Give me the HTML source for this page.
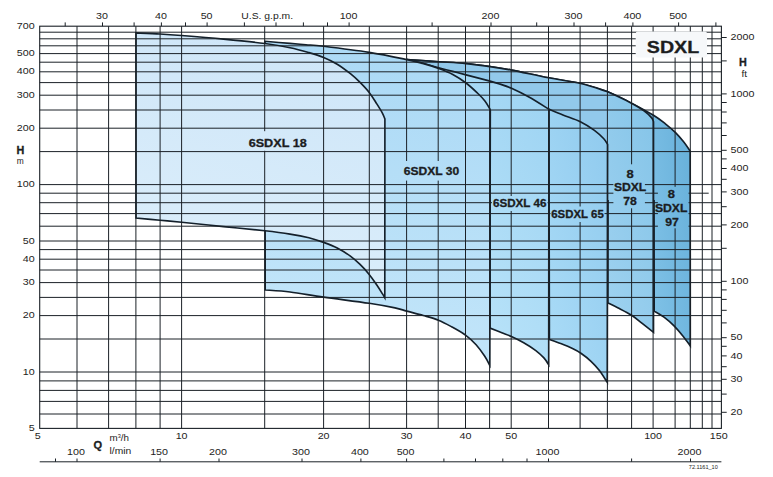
<!DOCTYPE html>
<html><head><meta charset="utf-8"><title>SDXL</title>
<style>html,body{margin:0;padding:0;background:#fff}svg{display:block}text{font-family:"Liberation Sans",sans-serif;fill:#1d1d1b}</style></head><body>
<svg width="773" height="477" viewBox="0 0 773 477">
<rect width="773" height="477" fill="#fff"/>
<defs>
<linearGradient id="g1" gradientUnits="userSpaceOnUse" x1="385.0" y1="32.0" x2="302.1" y2="342.4"><stop offset="0" stop-color="#cde5f8"/><stop offset="1" stop-color="#ddeffb"/></linearGradient>
<linearGradient id="g2" gradientUnits="userSpaceOnUse" x1="490.0" y1="41.0" x2="399.0" y2="399.1"><stop offset="0" stop-color="#a9d8f5"/><stop offset="1" stop-color="#c6e7fa"/></linearGradient>
<linearGradient id="g3" gradientUnits="userSpaceOnUse" x1="549.0" y1="60.0" x2="372.5" y2="162.5"><stop offset="0" stop-color="#9bd2f2"/><stop offset="1" stop-color="#b9e3f9"/></linearGradient>
<linearGradient id="g4" gradientUnits="userSpaceOnUse" x1="608.0" y1="108.0" x2="485.4" y2="140.3"><stop offset="0" stop-color="#8fcaee"/><stop offset="1" stop-color="#abdcf7"/></linearGradient>
<linearGradient id="g5" gradientUnits="userSpaceOnUse" x1="654.0" y1="92.0" x2="547.8" y2="122.5"><stop offset="0" stop-color="#84c4e8"/><stop offset="1" stop-color="#9fd2f0"/></linearGradient>
<linearGradient id="g6" gradientUnits="userSpaceOnUse" x1="690.0" y1="115.0" x2="630.6" y2="121.2"><stop offset="0" stop-color="#67b0da"/><stop offset="1" stop-color="#80c2e7"/></linearGradient>
</defs>
<path d="M406.80,59.60 C412.12,59.95 428.83,61.03 438.70,61.70 C448.57,62.37 457.45,62.78 466.00,63.60 C474.55,64.42 482.42,65.52 490.00,66.60 C497.58,67.68 501.72,68.23 511.50,70.10 C521.28,71.97 537.15,75.57 548.70,77.80 C560.25,80.03 570.97,81.17 580.80,83.50 C590.63,85.83 599.18,88.48 607.70,91.80 C616.22,95.12 624.27,99.48 631.90,103.40 C639.53,107.32 647.82,111.82 653.50,115.30 C659.18,118.78 662.37,121.45 666.00,124.30 C669.63,127.15 672.37,129.48 675.30,132.40 C678.23,135.32 681.12,138.70 683.60,141.80 C686.08,144.90 689.10,149.47 690.20,151.00 L690.30,345.90 C689.10,344.30 685.77,339.60 683.10,336.30 C680.43,333.00 677.48,329.28 674.30,326.10 C671.12,322.92 667.35,319.70 664.00,317.20 C660.65,314.70 655.83,312.12 654.20,311.10 L654.0,200.0 L406.8,200.0 Z" fill="url(#g6)" stroke="none"/>
<path d="M406.80,59.60 C412.12,59.95 428.83,61.03 438.70,61.70 C448.57,62.37 457.45,62.78 466.00,63.60 C474.55,64.42 482.42,65.52 490.00,66.60 C497.58,67.68 501.72,68.23 511.50,70.10 C521.28,71.97 537.15,75.57 548.70,77.80 C560.25,80.03 570.97,81.17 580.80,83.50 C590.63,85.83 599.18,88.48 607.70,91.80 C616.22,95.12 624.27,99.48 631.90,103.40 C639.53,107.32 647.82,111.82 653.50,115.30 C659.18,118.78 662.37,121.45 666.00,124.30 C669.63,127.15 672.37,129.48 675.30,132.40 C678.23,135.32 681.12,138.70 683.60,141.80 C686.08,144.90 689.10,149.47 690.20,151.00 L690.30,345.90 C689.10,344.30 685.77,339.60 683.10,336.30 C680.43,333.00 677.48,329.28 674.30,326.10 C671.12,322.92 667.35,319.70 664.00,317.20 C660.65,314.70 655.83,312.12 654.20,311.10 L654.0,200" fill="none" stroke="#14202b" stroke-width="1.65" stroke-linejoin="miter"/>
<path d="M406.80,59.60 C412.12,59.95 428.83,61.03 438.70,61.70 C448.57,62.37 457.45,62.78 466.00,63.60 C474.55,64.42 482.42,65.52 490.00,66.60 C497.58,67.68 501.72,68.23 511.50,70.10 C521.28,71.97 537.15,75.57 548.70,77.80 C560.25,80.03 570.97,81.17 580.80,83.50 C590.63,85.83 603.22,90.42 607.70,91.80 L607.7,200 L406.8,200 Z" fill="#92c9eb" stroke="none"/>
<path d="M406.80,59.60 C412.12,59.95 428.83,61.03 438.70,61.70 C448.57,62.37 457.45,62.78 466.00,63.60 C474.55,64.42 482.42,65.52 490.00,66.60 C497.58,67.68 501.72,68.23 511.50,70.10 C521.28,71.97 537.15,75.57 548.70,77.80 C560.25,80.03 570.97,81.17 580.80,83.50 C590.63,85.83 603.22,90.42 607.70,91.80" fill="none" stroke="#14202b" stroke-width="1.65" stroke-linejoin="miter"/>
<path d="M607.70,91.80 C611.18,93.47 622.55,98.63 628.60,101.80 C634.65,104.97 640.15,108.12 644.00,110.80 C647.85,113.48 650.12,116.07 651.70,117.90 C653.28,119.73 653.20,121.15 653.50,121.80 L653.50,332.40 C651.62,330.90 645.85,326.27 642.20,323.40 C638.55,320.53 635.68,317.82 631.60,315.20 C627.52,312.58 621.65,309.75 617.70,307.70 C613.75,305.65 609.53,303.70 607.90,302.90 Z" fill="url(#g5)" stroke="none"/>
<path d="M607.70,91.80 C611.18,93.47 622.55,98.63 628.60,101.80 C634.65,104.97 640.15,108.12 644.00,110.80 C647.85,113.48 650.12,116.07 651.70,117.90 C653.28,119.73 653.20,121.15 653.50,121.80 L653.50,332.40 C651.62,330.90 645.85,326.27 642.20,323.40 C638.55,320.53 635.68,317.82 631.60,315.20 C627.52,312.58 621.65,309.75 617.70,307.70 C613.75,305.65 609.53,303.70 607.90,302.90 L608.0,200" fill="none" stroke="#14202b" stroke-width="1.65" stroke-linejoin="miter"/>
<path d="M548.90,109.30 C551.23,110.25 557.58,112.90 562.90,115.00 C568.22,117.10 575.55,119.35 580.80,121.90 C586.05,124.45 590.57,127.50 594.40,130.30 C598.23,133.10 601.60,136.33 603.80,138.70 C606.00,141.07 606.97,143.53 607.60,144.50 L607.30,382.40 C605.98,380.42 602.12,374.02 599.40,370.50 C596.68,366.98 594.08,364.17 591.00,361.30 C587.92,358.43 583.98,355.42 580.90,353.30 C577.82,351.18 575.87,350.22 572.50,348.60 C569.13,346.98 564.55,345.13 560.70,343.60 C556.85,342.07 551.28,340.10 549.40,339.40 Z" fill="url(#g4)" stroke="none"/>
<path d="M548.90,109.30 C551.23,110.25 557.58,112.90 562.90,115.00 C568.22,117.10 575.55,119.35 580.80,121.90 C586.05,124.45 590.57,127.50 594.40,130.30 C598.23,133.10 601.60,136.33 603.80,138.70 C606.00,141.07 606.97,143.53 607.60,144.50 L607.30,382.40 C605.98,380.42 602.12,374.02 599.40,370.50 C596.68,366.98 594.08,364.17 591.00,361.30 C587.92,358.43 583.98,355.42 580.90,353.30 C577.82,351.18 575.87,350.22 572.50,348.60 C569.13,346.98 564.55,345.13 560.70,343.60 C556.85,342.07 551.28,340.10 549.40,339.40 Z" fill="none" stroke="#14202b" stroke-width="1.65" stroke-linejoin="miter"/>
<path d="M406.80,59.60 C409.43,60.20 417.28,61.82 422.60,63.20 C427.92,64.58 433.67,66.53 438.70,67.90 C443.73,69.27 448.25,70.23 452.80,71.40 C457.35,72.57 459.80,73.28 466.00,74.90 C472.20,76.52 484.33,79.57 490.00,81.10 C495.67,82.63 496.42,82.90 500.00,84.10 C503.58,85.30 506.60,86.10 511.50,88.30 C516.40,90.50 523.17,93.80 529.40,97.30 C535.63,100.80 545.65,107.30 548.90,109.30 L548.70,364.80 C547.90,363.65 546.10,360.32 543.90,357.90 C541.70,355.48 538.87,352.83 535.50,350.30 C532.13,347.77 527.72,345.00 523.70,342.70 C519.68,340.40 515.05,338.17 511.40,336.50 C507.75,334.83 505.37,334.10 501.80,332.70 C498.23,331.30 491.97,328.87 490.00,328.10 L490.0,200.0 L406.8,200.0 Z" fill="url(#g3)" stroke="none"/>
<path d="M406.80,59.60 C409.43,60.20 417.28,61.82 422.60,63.20 C427.92,64.58 433.67,66.53 438.70,67.90 C443.73,69.27 448.25,70.23 452.80,71.40 C457.35,72.57 459.80,73.28 466.00,74.90 C472.20,76.52 484.33,79.57 490.00,81.10 C495.67,82.63 496.42,82.90 500.00,84.10 C503.58,85.30 506.60,86.10 511.50,88.30 C516.40,90.50 523.17,93.80 529.40,97.30 C535.63,100.80 545.65,107.30 548.90,109.30 L548.70,364.80 C547.90,363.65 546.10,360.32 543.90,357.90 C541.70,355.48 538.87,352.83 535.50,350.30 C532.13,347.77 527.72,345.00 523.70,342.70 C519.68,340.40 515.05,338.17 511.40,336.50 C507.75,334.83 505.37,334.10 501.80,332.70 C498.23,331.30 491.97,328.87 490.00,328.10 L490.0,200" fill="none" stroke="#14202b" stroke-width="1.65" stroke-linejoin="miter"/>
<path d="M264.90,41.30 C269.08,41.65 283.15,42.83 290.00,43.40 C296.85,43.97 300.40,44.22 306.00,44.70 C311.60,45.18 313.07,45.02 323.60,46.30 C334.13,47.58 355.33,50.18 369.20,52.40 C383.07,54.62 397.90,57.77 406.80,59.60 C415.70,61.43 417.28,61.92 422.60,63.40 C427.92,64.88 433.67,66.65 438.70,68.50 C443.73,70.35 448.25,72.08 452.80,74.50 C457.35,76.92 461.90,79.92 466.00,83.00 C470.10,86.08 474.25,90.02 477.40,93.00 C480.55,95.98 482.87,98.32 484.90,100.90 C486.93,103.48 488.70,106.90 489.60,108.50 C490.50,110.10 490.18,110.17 490.30,110.50 L489.80,365.30 C488.93,363.75 486.88,359.43 484.60,356.00 C482.32,352.57 479.23,348.15 476.10,344.70 C472.97,341.25 469.88,338.28 465.80,335.30 C461.72,332.32 456.17,329.32 451.60,326.80 C447.03,324.28 443.12,322.08 438.40,320.20 C433.68,318.32 428.58,317.02 423.30,315.50 C418.02,313.98 411.42,312.37 406.70,311.10 C401.98,309.83 401.25,309.20 395.00,307.90 C388.75,306.60 381.10,305.10 369.20,303.30 C357.30,301.50 336.80,298.98 323.60,297.10 C310.40,295.22 299.73,293.18 290.00,292.00 C280.27,290.82 269.33,290.33 265.20,290.00 Z" fill="url(#g2)" stroke="none"/>
<path d="M264.90,41.30 C269.08,41.65 283.15,42.83 290.00,43.40 C296.85,43.97 300.40,44.22 306.00,44.70 C311.60,45.18 313.07,45.02 323.60,46.30 C334.13,47.58 355.33,50.18 369.20,52.40 C383.07,54.62 397.90,57.77 406.80,59.60 C415.70,61.43 417.28,61.92 422.60,63.40 C427.92,64.88 433.67,66.65 438.70,68.50 C443.73,70.35 448.25,72.08 452.80,74.50 C457.35,76.92 461.90,79.92 466.00,83.00 C470.10,86.08 474.25,90.02 477.40,93.00 C480.55,95.98 482.87,98.32 484.90,100.90 C486.93,103.48 488.70,106.90 489.60,108.50 C490.50,110.10 490.18,110.17 490.30,110.50 L489.80,365.30 C488.93,363.75 486.88,359.43 484.60,356.00 C482.32,352.57 479.23,348.15 476.10,344.70 C472.97,341.25 469.88,338.28 465.80,335.30 C461.72,332.32 456.17,329.32 451.60,326.80 C447.03,324.28 443.12,322.08 438.40,320.20 C433.68,318.32 428.58,317.02 423.30,315.50 C418.02,313.98 411.42,312.37 406.70,311.10 C401.98,309.83 401.25,309.20 395.00,307.90 C388.75,306.60 381.10,305.10 369.20,303.30 C357.30,301.50 336.80,298.98 323.60,297.10 C310.40,295.22 299.73,293.18 290.00,292.00 C280.27,290.82 269.33,290.33 265.20,290.00 Z" fill="none" stroke="#14202b" stroke-width="1.65" stroke-linejoin="miter"/>
<path d="M136.00,32.90 C140.02,33.08 152.50,33.57 160.10,34.00 C167.70,34.43 171.03,34.65 181.60,35.50 C192.17,36.35 209.62,37.77 223.50,39.10 C237.38,40.43 253.82,42.07 264.90,43.50 C275.98,44.93 282.67,46.18 290.00,47.70 C297.33,49.22 303.30,50.97 308.90,52.60 C314.50,54.23 318.88,55.57 323.60,57.50 C328.32,59.43 332.73,61.50 337.20,64.20 C341.67,66.90 346.63,70.70 350.40,73.70 C354.17,76.70 356.67,79.07 359.80,82.20 C362.93,85.33 366.37,88.88 369.20,92.50 C372.03,96.12 374.58,100.43 376.80,103.90 C379.02,107.37 381.15,110.78 382.50,113.30 C383.85,115.82 384.50,118.05 384.90,119.00 L384.80,297.80 C384.42,297.15 383.83,296.03 382.50,293.90 C381.17,291.77 379.02,288.25 376.80,285.00 C374.58,281.75 372.03,277.87 369.20,274.40 C366.37,270.93 362.93,267.25 359.80,264.20 C356.67,261.15 354.17,258.80 350.40,256.10 C346.63,253.40 341.67,250.28 337.20,248.00 C332.73,245.72 328.32,244.10 323.60,242.40 C318.88,240.70 314.50,239.18 308.90,237.80 C303.30,236.42 297.33,235.27 290.00,234.10 C282.67,232.93 275.98,232.05 264.90,230.80 C253.82,229.55 237.38,228.02 223.50,226.60 C209.62,225.18 192.17,223.37 181.60,222.30 C171.03,221.23 167.70,220.90 160.10,220.20 C152.50,219.50 140.02,218.45 136.00,218.10 Z" fill="url(#g1)" stroke="none"/>
<path d="M136.00,32.90 C140.02,33.08 152.50,33.57 160.10,34.00 C167.70,34.43 171.03,34.65 181.60,35.50 C192.17,36.35 209.62,37.77 223.50,39.10 C237.38,40.43 253.82,42.07 264.90,43.50 C275.98,44.93 282.67,46.18 290.00,47.70 C297.33,49.22 303.30,50.97 308.90,52.60 C314.50,54.23 318.88,55.57 323.60,57.50 C328.32,59.43 332.73,61.50 337.20,64.20 C341.67,66.90 346.63,70.70 350.40,73.70 C354.17,76.70 356.67,79.07 359.80,82.20 C362.93,85.33 366.37,88.88 369.20,92.50 C372.03,96.12 374.58,100.43 376.80,103.90 C379.02,107.37 381.15,110.78 382.50,113.30 C383.85,115.82 384.50,118.05 384.90,119.00 L384.80,297.80 C384.42,297.15 383.83,296.03 382.50,293.90 C381.17,291.77 379.02,288.25 376.80,285.00 C374.58,281.75 372.03,277.87 369.20,274.40 C366.37,270.93 362.93,267.25 359.80,264.20 C356.67,261.15 354.17,258.80 350.40,256.10 C346.63,253.40 341.67,250.28 337.20,248.00 C332.73,245.72 328.32,244.10 323.60,242.40 C318.88,240.70 314.50,239.18 308.90,237.80 C303.30,236.42 297.33,235.27 290.00,234.10 C282.67,232.93 275.98,232.05 264.90,230.80 C253.82,229.55 237.38,228.02 223.50,226.60 C209.62,225.18 192.17,223.37 181.60,222.30 C171.03,221.23 167.70,220.90 160.10,220.20 C152.50,219.50 140.02,218.45 136.00,218.10 Z" fill="none" stroke="#14202b" stroke-width="1.65" stroke-linejoin="miter"/>
<path d="M77.0,26.2V428.4M108.6,26.2V428.4M135.9,26.2V428.4M160.1,26.2V428.4M181.6,26.2V428.4M264.7,26.2V428.4M323.6,26.2V428.4M369.3,26.2V428.4M406.6,26.2V428.4M438.2,26.2V428.4M465.5,26.2V428.4M489.6,26.2V428.4M511.2,26.2V428.4M548.5,26.2V428.4M580.1,26.2V428.4M607.4,26.2V428.4M631.6,26.2V428.4M653.1,26.2V428.4M675.1,26.2V428.4M690.3,26.2V428.4M702.3,26.2V428.4M712.0,26.2V428.4M39.7,414.0H721.4M39.7,401.4H721.4M39.7,390.4H721.4M39.7,380.9H721.4M39.7,372.0H721.4M39.7,339.0H721.4M39.7,315.6H721.4M39.7,297.4H721.4M39.7,282.6H721.4M39.7,270.0H721.4M39.7,259.2H721.4M39.7,249.6H721.4M39.7,241.0H721.4M39.7,226.2H721.4M39.7,213.6H721.4M39.7,202.7H721.4M39.7,193.2H708.7M39.7,184.6H721.4M39.7,151.6H721.4M39.7,128.2H721.4M39.7,110.0H721.4M39.7,95.2H721.4M39.7,82.6H721.4M39.7,71.8H721.4M39.7,62.2H721.4M39.7,53.6H721.4M39.7,45.8H721.4M39.7,38.8H721.4M39.7,32.2H721.4" stroke="#1b2127" stroke-width="1" fill="none"/>
<rect x="39.7" y="26.2" width="681.7" height="402.2" fill="none" stroke="#1b2127" stroke-width="1.1"/>
<rect x="262.5" y="131.2" width="5.0" height="19.6" fill="url(#g1)"/>
<rect x="403.0" y="161.0" width="57.5" height="19.6" fill="url(#g2)"/>
<rect x="492.0" y="196.0" width="55.5" height="15.0" fill="url(#g3)"/>
<rect x="550.5" y="206.5" width="54.0" height="15.5" fill="url(#g4)"/>
<rect x="613.4" y="164.3" width="31.5" height="44.0" fill="url(#g5)"/>
<rect x="657.9" y="186.8" width="30.6" height="41.5" fill="url(#g6)"/>
<rect x="635.7" y="31.4" width="71.3" height="26.2" rx="2" fill="#f6f8fa"/>
<path d="M65.2,26.2V22.4M102.5,26.2V22.4M134.1,26.2V22.4M161.4,26.2V22.4M185.5,26.2V22.4M207.1,26.2V22.4M244.4,26.2V22.4M276.0,26.2V22.4M303.4,26.2V22.4M327.5,26.2V22.4M349.1,26.2V22.4M432.1,26.2V22.4M491.0,26.2V22.4M536.7,26.2V22.4M574.0,26.2V22.4M605.6,26.2V22.4M632.9,26.2V22.4M678.6,26.2V22.4M715.9,26.2V22.4M721.4,37.5H726.7M721.4,60.9H726.7M721.4,93.9H726.7M721.4,102.5H726.7M721.4,112.0H726.7M721.4,122.9H726.7M721.4,135.5H726.7M721.4,150.3H726.7M721.4,158.9H726.7M721.4,168.5H726.7M721.4,179.3H726.7M721.4,191.9H726.7M721.4,206.7H726.7M721.4,224.9H726.7M721.4,248.3H726.7M721.4,281.3H726.7M721.4,289.9H726.7M721.4,299.4H726.7M721.4,310.3H726.7M721.4,322.9H726.7M721.4,337.7H726.7M721.4,346.3H726.7M721.4,355.9H726.7M721.4,366.7H726.7M721.4,379.3H726.7M721.4,394.1H726.7M721.4,412.3H726.7M39.7,461.8H721.4M55.5,461.8V458.5M77.0,461.8V458.5M160.1,461.8V458.5M219.0,461.8V458.5M302.0,461.8V458.5M360.9,461.8V458.5M406.6,461.8V458.5M443.9,461.8V458.5M475.5,461.8V458.5M502.8,461.8V458.5M527.0,461.8V458.5M548.5,461.8V458.5M631.6,461.8V458.5M690.5,461.8V458.5" stroke="#1b2127" stroke-width="1" fill="none"/>
<text x="37.8" y="439.2" font-size="9.80" text-anchor="middle" fill="#333333" textLength="6.0" lengthAdjust="spacingAndGlyphs">5</text>
<text x="181.6" y="439.2" font-size="9.80" text-anchor="middle" fill="#333333" textLength="11.9" lengthAdjust="spacingAndGlyphs">10</text>
<text x="323.6" y="439.2" font-size="9.80" text-anchor="middle" fill="#333333" textLength="11.9" lengthAdjust="spacingAndGlyphs">20</text>
<text x="406.6" y="439.2" font-size="9.80" text-anchor="middle" fill="#333333" textLength="11.9" lengthAdjust="spacingAndGlyphs">30</text>
<text x="465.5" y="439.2" font-size="9.80" text-anchor="middle" fill="#333333" textLength="11.9" lengthAdjust="spacingAndGlyphs">40</text>
<text x="511.2" y="439.2" font-size="9.80" text-anchor="middle" fill="#333333" textLength="11.9" lengthAdjust="spacingAndGlyphs">50</text>
<text x="653.1" y="439.2" font-size="9.80" text-anchor="middle" fill="#333333" textLength="17.9" lengthAdjust="spacingAndGlyphs">100</text>
<text x="718.8" y="439.2" font-size="9.80" text-anchor="middle" fill="#333333" textLength="17.9" lengthAdjust="spacingAndGlyphs">150</text>
<text x="76.0" y="454.6" font-size="9.80" text-anchor="middle" fill="#333333" textLength="17.9" lengthAdjust="spacingAndGlyphs">100</text>
<text x="159.1" y="454.6" font-size="9.80" text-anchor="middle" fill="#333333" textLength="17.9" lengthAdjust="spacingAndGlyphs">150</text>
<text x="218.0" y="454.6" font-size="9.80" text-anchor="middle" fill="#333333" textLength="17.9" lengthAdjust="spacingAndGlyphs">200</text>
<text x="301.0" y="454.6" font-size="9.80" text-anchor="middle" fill="#333333" textLength="17.9" lengthAdjust="spacingAndGlyphs">300</text>
<text x="359.9" y="454.6" font-size="9.80" text-anchor="middle" fill="#333333" textLength="17.9" lengthAdjust="spacingAndGlyphs">400</text>
<text x="405.6" y="454.6" font-size="9.80" text-anchor="middle" fill="#333333" textLength="17.9" lengthAdjust="spacingAndGlyphs">500</text>
<text x="547.5" y="454.6" font-size="9.80" text-anchor="middle" fill="#333333" textLength="23.8" lengthAdjust="spacingAndGlyphs">1000</text>
<text x="689.5" y="454.6" font-size="9.80" text-anchor="middle" fill="#333333" textLength="23.8" lengthAdjust="spacingAndGlyphs">2000</text>
<text x="102.0" y="19.2" font-size="9.80" text-anchor="middle" fill="#333333" textLength="11.9" lengthAdjust="spacingAndGlyphs">30</text>
<text x="160.9" y="19.2" font-size="9.80" text-anchor="middle" fill="#333333" textLength="11.9" lengthAdjust="spacingAndGlyphs">40</text>
<text x="206.6" y="19.2" font-size="9.80" text-anchor="middle" fill="#333333" textLength="11.9" lengthAdjust="spacingAndGlyphs">50</text>
<text x="348.6" y="19.2" font-size="9.80" text-anchor="middle" fill="#333333" textLength="17.9" lengthAdjust="spacingAndGlyphs">100</text>
<text x="490.5" y="19.2" font-size="9.80" text-anchor="middle" fill="#333333" textLength="17.9" lengthAdjust="spacingAndGlyphs">200</text>
<text x="573.5" y="19.2" font-size="9.80" text-anchor="middle" fill="#333333" textLength="17.9" lengthAdjust="spacingAndGlyphs">300</text>
<text x="632.4" y="19.2" font-size="9.80" text-anchor="middle" fill="#333333" textLength="17.9" lengthAdjust="spacingAndGlyphs">400</text>
<text x="678.1" y="19.2" font-size="9.80" text-anchor="middle" fill="#333333" textLength="17.9" lengthAdjust="spacingAndGlyphs">500</text>
<text x="267.2" y="19.2" font-size="9.80" text-anchor="middle" fill="#333333" textLength="51.8" lengthAdjust="spacingAndGlyphs">U.S. g.p.m.</text>
<text x="34.7" y="28.8" font-size="9.80" text-anchor="end" fill="#333333" textLength="17.9" lengthAdjust="spacingAndGlyphs">700</text>
<text x="34.7" y="56.2" font-size="9.80" text-anchor="end" fill="#333333" textLength="17.9" lengthAdjust="spacingAndGlyphs">500</text>
<text x="34.7" y="74.4" font-size="9.80" text-anchor="end" fill="#333333" textLength="17.9" lengthAdjust="spacingAndGlyphs">400</text>
<text x="34.7" y="97.8" font-size="9.80" text-anchor="end" fill="#333333" textLength="17.9" lengthAdjust="spacingAndGlyphs">300</text>
<text x="34.7" y="130.8" font-size="9.80" text-anchor="end" fill="#333333" textLength="17.9" lengthAdjust="spacingAndGlyphs">200</text>
<text x="34.7" y="187.2" font-size="9.80" text-anchor="end" fill="#333333" textLength="17.9" lengthAdjust="spacingAndGlyphs">100</text>
<text x="34.7" y="243.6" font-size="9.80" text-anchor="end" fill="#333333" textLength="11.9" lengthAdjust="spacingAndGlyphs">50</text>
<text x="34.7" y="261.8" font-size="9.80" text-anchor="end" fill="#333333" textLength="11.9" lengthAdjust="spacingAndGlyphs">40</text>
<text x="34.7" y="285.2" font-size="9.80" text-anchor="end" fill="#333333" textLength="11.9" lengthAdjust="spacingAndGlyphs">30</text>
<text x="34.7" y="318.2" font-size="9.80" text-anchor="end" fill="#333333" textLength="11.9" lengthAdjust="spacingAndGlyphs">20</text>
<text x="34.7" y="374.6" font-size="9.80" text-anchor="end" fill="#333333" textLength="11.9" lengthAdjust="spacingAndGlyphs">10</text>
<text x="34.7" y="431.0" font-size="9.80" text-anchor="end" fill="#333333" textLength="6.0" lengthAdjust="spacingAndGlyphs">5</text>
<text x="730.6" y="40.2" font-size="9.80" text-anchor="start" fill="#333333" textLength="23.8" lengthAdjust="spacingAndGlyphs">2000</text>
<text x="730.6" y="96.6" font-size="9.80" text-anchor="start" fill="#333333" textLength="23.8" lengthAdjust="spacingAndGlyphs">1000</text>
<text x="730.6" y="153.0" font-size="9.80" text-anchor="start" fill="#333333" textLength="17.9" lengthAdjust="spacingAndGlyphs">500</text>
<text x="730.6" y="171.2" font-size="9.80" text-anchor="start" fill="#333333" textLength="17.9" lengthAdjust="spacingAndGlyphs">400</text>
<text x="730.6" y="194.6" font-size="9.80" text-anchor="start" fill="#333333" textLength="17.9" lengthAdjust="spacingAndGlyphs">300</text>
<text x="730.6" y="227.6" font-size="9.80" text-anchor="start" fill="#333333" textLength="17.9" lengthAdjust="spacingAndGlyphs">200</text>
<text x="730.6" y="284.0" font-size="9.80" text-anchor="start" fill="#333333" textLength="17.9" lengthAdjust="spacingAndGlyphs">100</text>
<text x="730.6" y="340.4" font-size="9.80" text-anchor="start" fill="#333333" textLength="11.9" lengthAdjust="spacingAndGlyphs">50</text>
<text x="730.6" y="358.6" font-size="9.80" text-anchor="start" fill="#333333" textLength="11.9" lengthAdjust="spacingAndGlyphs">40</text>
<text x="730.6" y="382.0" font-size="9.80" text-anchor="start" fill="#333333" textLength="11.9" lengthAdjust="spacingAndGlyphs">30</text>
<text x="730.6" y="415.0" font-size="9.80" text-anchor="start" fill="#333333" textLength="11.9" lengthAdjust="spacingAndGlyphs">20</text>
<text x="20.3" y="153.6" font-size="10.20" text-anchor="middle" font-weight="bold" fill="#18212d" stroke="#18212d" stroke-width="0.3" textLength="7.8" lengthAdjust="spacingAndGlyphs">H</text>
<text x="20.2" y="163.6" font-size="9.80" text-anchor="middle" fill="#333333" textLength="7.0" lengthAdjust="spacingAndGlyphs">m</text>
<text x="743.0" y="65.7" font-size="10.20" text-anchor="middle" font-weight="bold" fill="#18212d" stroke="#18212d" stroke-width="0.3" textLength="7.8" lengthAdjust="spacingAndGlyphs">H</text>
<text x="744.3" y="76.5" font-size="9.80" text-anchor="middle" fill="#333333" textLength="5.6" lengthAdjust="spacingAndGlyphs">ft</text>
<text x="97.7" y="449.3" font-size="11.20" text-anchor="middle" font-weight="bold" fill="#18212d" stroke="#18212d" stroke-width="0.3" textLength="8.6" lengthAdjust="spacingAndGlyphs">Q</text>
<text x="109.5" y="440.9" font-size="9.80" fill="#333333">m<tspan font-size="5.6" dy="-3.4">3</tspan><tspan dy="3.4">/h</tspan></text>
<text x="109.5" y="453.6" font-size="9.80" text-anchor="start" fill="#333333" textLength="21.7" lengthAdjust="spacingAndGlyphs">l/min</text>
<text x="703.3" y="468.9" font-size="4.60" text-anchor="middle" fill="#333333" textLength="29.0" lengthAdjust="spacingAndGlyphs">72.1161_10</text>
<text x="277.7" y="146.6" font-size="10.80" text-anchor="middle" font-weight="bold" fill="#18212d" stroke="#18212d" stroke-width="0.3" textLength="58.0" lengthAdjust="spacingAndGlyphs">6SDXL 18</text>
<text x="431.5" y="174.6" font-size="10.80" text-anchor="middle" font-weight="bold" fill="#18212d" stroke="#18212d" stroke-width="0.3" textLength="55.5" lengthAdjust="spacingAndGlyphs">6SDXL 30</text>
<text x="519.7" y="207.1" font-size="10.80" text-anchor="middle" font-weight="bold" fill="#18212d" stroke="#18212d" stroke-width="0.3" textLength="53.5" lengthAdjust="spacingAndGlyphs">6SDXL 46</text>
<text x="577.5" y="218.3" font-size="10.80" text-anchor="middle" font-weight="bold" fill="#18212d" stroke="#18212d" stroke-width="0.3" textLength="52.5" lengthAdjust="spacingAndGlyphs">6SDXL 65</text>
<text x="630.1" y="177.9" font-size="10.80" text-anchor="middle" font-weight="bold" fill="#18212d" stroke="#18212d" stroke-width="0.3" textLength="7.2" lengthAdjust="spacingAndGlyphs">8</text>
<text x="630.1" y="191.3" font-size="10.80" text-anchor="middle" font-weight="bold" fill="#18212d" stroke="#18212d" stroke-width="0.3" textLength="32.4" lengthAdjust="spacingAndGlyphs">SDXL</text>
<text x="630.1" y="205.0" font-size="10.80" text-anchor="middle" font-weight="bold" fill="#18212d" stroke="#18212d" stroke-width="0.3" textLength="13.6" lengthAdjust="spacingAndGlyphs">78</text>
<text x="671.4" y="198.1" font-size="10.80" text-anchor="middle" font-weight="bold" fill="#18212d" stroke="#18212d" stroke-width="0.3" textLength="7.2" lengthAdjust="spacingAndGlyphs">8</text>
<text x="671.2" y="211.8" font-size="10.80" text-anchor="middle" font-weight="bold" fill="#18212d" stroke="#18212d" stroke-width="0.3" textLength="32.6" lengthAdjust="spacingAndGlyphs">SDXL</text>
<text x="672.0" y="226.1" font-size="10.80" text-anchor="middle" font-weight="bold" fill="#18212d" stroke="#18212d" stroke-width="0.3" textLength="13.6" lengthAdjust="spacingAndGlyphs">97</text>
<text x="673.0" y="52.8" font-size="16.60" text-anchor="middle" font-weight="bold" fill="#18212d" stroke="#18212d" stroke-width="0.3" textLength="52.4" lengthAdjust="spacingAndGlyphs">SDXL</text>
</svg></body></html>
